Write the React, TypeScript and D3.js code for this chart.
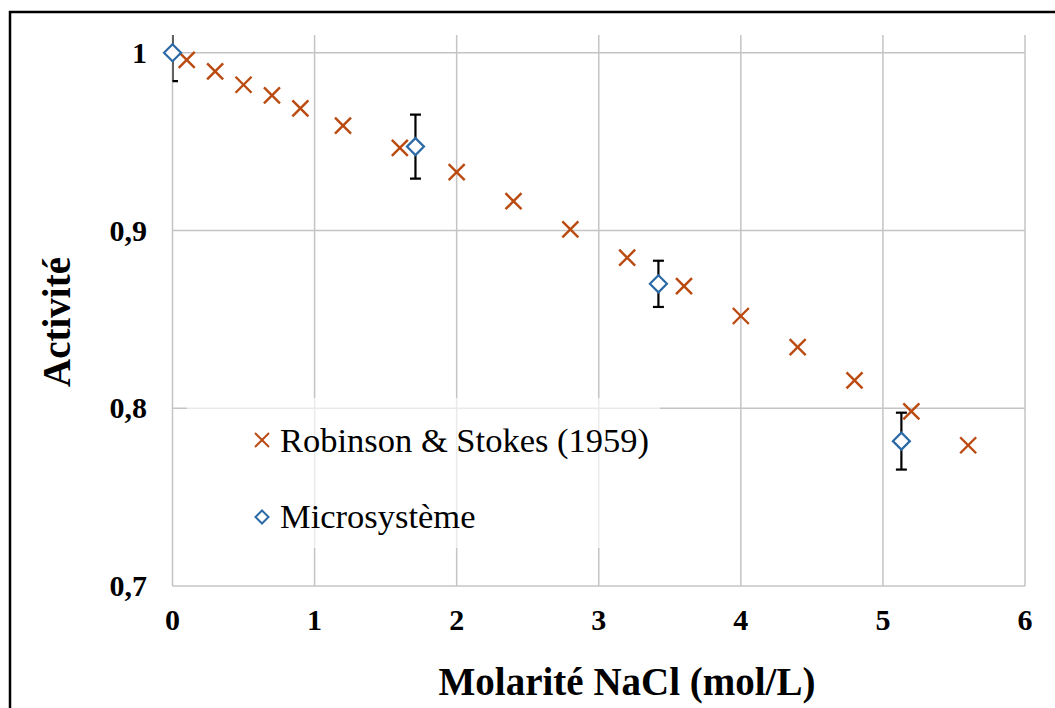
import React from "react";
import * as d3 from "d3";

const robX = [0.1, 0.3, 0.5, 0.7, 0.9, 1.2, 1.6, 2.0, 2.4, 2.8, 3.2, 3.6, 4.0, 4.4, 4.8, 5.2, 5.6];
const robY = [0.996, 0.9895, 0.982, 0.976, 0.9687, 0.959, 0.9465, 0.9328, 0.9165, 0.9006, 0.8847, 0.8687, 0.8519, 0.8344, 0.8157, 0.7983, 0.7792];

const micX = [0, 1.71, 3.42, 5.13];
const micY = [1.0, 0.9472, 0.870, 0.7815];
const micErr = [0.016, 0.018, 0.013, 0.016];

const xTicks = [0, 1, 2, 3, 4, 5, 6];
const yTicks = [0.7, 0.8, 0.9, 1.0];
const yTickLabels = ["0,7", "0,8", "0,9", "1"];

const legendLabels = ["Robinson & Stokes (1959)", "Microsystème"];
const xTitle = "Molarité NaCl (mol/L)";
const yTitle = "Activité";

const ORANGE = "#BA4A10";
const BLUE = "#2B6AA6";
const GRID = "#c4c4c4";

export default function App() {
  const W = 1055, H = 708;
  const left = 172.5, right = 1025, top = 35, bottom = 586;
  const x = d3.scaleLinear().domain([0, 6]).range([left, right]);
  const y = d3.scaleLinear().domain([0.7, 1.01]).range([bottom, top]);
  const serif = "'Liberation Serif', 'Times New Roman', serif";
  const tickStyle = { fontFamily: serif, fontWeight: 700, fontSize: "30px" } as React.CSSProperties;

  const cross = (cx: number, cy: number, s: number, key: string, sw = 2.4) => (
    <g key={key} stroke={ORANGE} strokeWidth={sw} strokeLinecap="butt">
      <line x1={cx - s} y1={cy - s} x2={cx + s} y2={cy + s} />
      <line x1={cx - s} y1={cy + s} x2={cx + s} y2={cy - s} />
    </g>
  );
  const diamond = (cx: number, cy: number, s: number, key: string, sw = 2.2) => (
    <path key={key} d={`M${cx},${cy - s}L${cx + s},${cy}L${cx},${cy + s}L${cx - s},${cy}Z`}
      fill="white" stroke={BLUE} strokeWidth={sw} />
  );

  return (
    <svg width={W} height={H} style={{ position: "absolute", left: 0, top: 0, background: "white" }}>
      <defs>
        <clipPath id="plotclip">
          <rect x={left} y={top} width={right - left} height={bottom - top} />
        </clipPath>
      </defs>
      <rect x={0} y={0} width={W} height={H} fill="white" />
      <rect x={10} y={12} width={W + 20} height={H + 20} fill="none" stroke="#000" strokeWidth={2.5} />

      {/* gridlines */}
      {xTicks.map((t) => (
        <line key={"gx" + t} x1={x(t)} x2={x(t)} y1={top} y2={bottom} stroke={GRID} strokeWidth={1.5} />
      ))}
      {yTicks.map((t) => (
        <line key={"gy" + t} x1={left} x2={right} y1={y(t)} y2={y(t)} stroke={GRID} strokeWidth={1.5} />
      ))}

      {/* tick labels */}
      {xTicks.map((t) => (
        <text key={"tx" + t} x={x(t)} y={630} textAnchor="middle" style={tickStyle} fill="#000">{t}</text>
      ))}
      {yTicks.map((t, i) => (
        <text key={"ty" + t} x={147} y={y(t) + 10} textAnchor="end" style={tickStyle} fill="#000">{yTickLabels[i]}</text>
      ))}

      {/* axis titles */}
      <text x={627} y={695} textAnchor="middle" fontFamily={serif} fontWeight="bold" fontSize={39} fill="#000">{xTitle}</text>
      <text transform="translate(70,322) rotate(-90)" textAnchor="middle" fontFamily={serif}
        fontWeight="bold" fontSize={39} fill="#000">{yTitle}</text>

      {/* legend */}
      <rect x={187} y={398} width={473} height={150} fill="white" fillOpacity={0.65} />
      {cross(262, 440, 7, "lg1", 2)}
      <text x={280} y={452} fontFamily={serif} fontSize={34.5} fill="#000">{legendLabels[0]}</text>
      {diamond(262, 517, 6.5, "lg2", 2)}
      <text x={280} y={528} fontFamily={serif} fontSize={34.5} fill="#000">{legendLabels[1]}</text>

      {/* error bars */}
      <g clipPath="url(#plotclip)" stroke="#000" strokeWidth={2.2}>
        {micX.map((v, i) => {
          const cx = x(v);
          const y1 = y(micY[i] + micErr[i]);
          const y2 = y(micY[i] - micErr[i]);
          return (
            <g key={"eb" + i}>
              <line x1={cx} x2={cx} y1={y1} y2={y2} />
              <line x1={cx - 5.5} x2={cx + 5.5} y1={y1} y2={y1} />
              <line x1={cx - 5.5} x2={cx + 5.5} y1={y2} y2={y2} />
            </g>
          );
        })}
      </g>

      {/* Robinson & Stokes */}
      {robX.map((v, i) => cross(x(v), y(robY[i]), 8, "r" + i))}

      {/* Microsysteme */}
      {micX.map((v, i) => diamond(x(v), y(micY[i]), 8.5, "m" + i))}
    </svg>
  );
}
